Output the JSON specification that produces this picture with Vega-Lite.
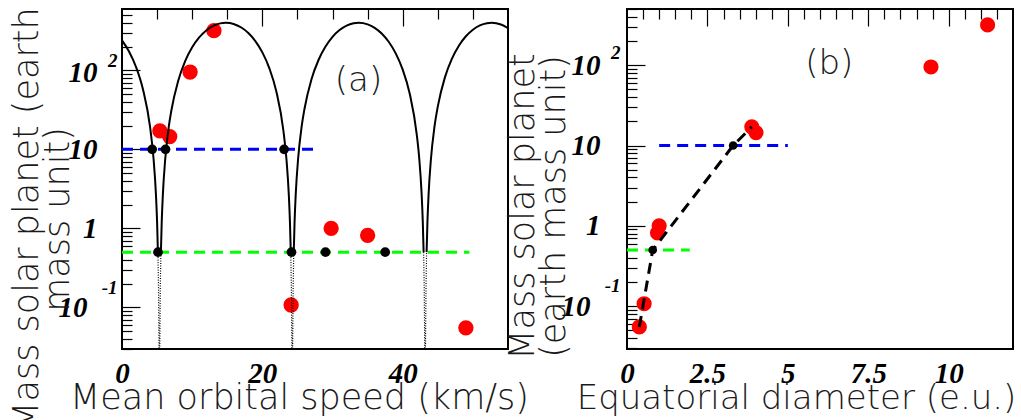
{
  "$schema": "https://vega.github.io/schema/vega-lite/v6.json",
  "autosize": "none",
  "padding": {"left": 122, "top": 9, "right": 899, "bottom": 411},
  "background": "white",
  "bounds": "flush",
  "spacing": 119,
  "config": {
    "view": {"stroke": "black", "strokeWidth": 2},
    "axis": {
      "grid": false,
      "labelFont": "Liberation Serif",
      "labelFontStyle": "italic",
      "labelFontWeight": "bold",
      "labelFontSize": 29,
      "labelColor": "black",
      "labelOverlap": false,
      "labelFlush": false,
      "labelBound": false,
      "ticks": false,
      "domain": false,
      "gridColor": "black",
      "gridOpacity": 1,
      "gridWidth": 1.2,
      "titleFont": "DejaVu Sans",
      "titleFontWeight": 200,
      "titleFontSize": 35,
      "titleColor": "#1a1a1a",
      "titleLineHeight": 31
    }
  },
  "datasets": {
    "planets": [
      {"planet": "Mercury", "speed": 49.0, "mass": 0.055, "diam": 0.383},
      {"planet": "Venus", "speed": 35.0, "mass": 0.815, "diam": 0.949},
      {"planet": "Earth", "speed": 29.8, "mass": 1.0, "diam": 1.0},
      {"planet": "Mars", "speed": 24.1, "mass": 0.107, "diam": 0.532},
      {"planet": "Jupiter", "speed": 13.1, "mass": 317.8, "diam": 11.21},
      {"planet": "Saturn", "speed": 9.7, "mass": 95.2, "diam": 9.45},
      {"planet": "Uranus", "speed": 6.8, "mass": 14.5, "diam": 4.01},
      {"planet": "Neptune", "speed": 5.4, "mass": 17.1, "diam": 3.88}
    ],
    "arches": [
      {"seg": "s1", "v": 0, "m": 239.4}, {"seg": "s1", "v": 1, "m": 173.4}, {"seg": "s1", "v": 2, "m": 110.3},
      {"seg": "s1", "v": 3, "m": 56.9}, {"seg": "s1", "v": 4, "m": 19.2}, {"seg": "s1", "v": 4.5, "m": 7.54},
      {"seg": "s1", "v": 4.83, "m": 2.75}, {"seg": "s1", "v": 5.0, "m": 1.2}, {"seg": "s1", "v": 5.117, "m": 0.5},
      {"seg": "s2", "v": 5.543, "m": 0.5}, {"seg": "s2", "v": 5.66, "m": 1.2}, {"seg": "s2", "v": 5.83, "m": 2.75},
      {"seg": "s2", "v": 6.16, "m": 7.54}, {"seg": "s2", "v": 6.66, "m": 19.2}, {"seg": "s2", "v": 7, "m": 29.96},
      {"seg": "s2", "v": 8, "m": 73.5}, {"seg": "s2", "v": 9, "m": 130.9}, {"seg": "s2", "v": 10, "m": 195.8},
      {"seg": "s2", "v": 11, "m": 261.2}, {"seg": "s2", "v": 12, "m": 320.0}, {"seg": "s2", "v": 13, "m": 365.6},
      {"seg": "s2", "v": 14, "m": 393.1}, {"seg": "s2", "v": 14.8, "m": 400}, {"seg": "s2", "v": 16, "m": 384.2},
      {"seg": "s2", "v": 17, "m": 348.7}, {"seg": "s2", "v": 18, "m": 297.2}, {"seg": "s2", "v": 19, "m": 234.9},
      {"seg": "s2", "v": 20, "m": 168.8}, {"seg": "s2", "v": 21, "m": 106.1}, {"seg": "s2", "v": 22, "m": 53.7},
      {"seg": "s2", "v": 23, "m": 17.2}, {"seg": "s2", "v": 23.43, "m": 7.54}, {"seg": "s2", "v": 23.76, "m": 2.75},
      {"seg": "s2", "v": 23.93, "m": 1.2}, {"seg": "s2", "v": 24.047, "m": 0.5},
      {"seg": "s3", "v": 24.473, "m": 0.5}, {"seg": "s3", "v": 24.59, "m": 1.2}, {"seg": "s3", "v": 24.76, "m": 2.75},
      {"seg": "s3", "v": 25.09, "m": 7.54}, {"seg": "s3", "v": 25.59, "m": 19.2}, {"seg": "s3", "v": 26, "m": 32.4},
      {"seg": "s3", "v": 27, "m": 77.2}, {"seg": "s3", "v": 28, "m": 135.3}, {"seg": "s3", "v": 29, "m": 200.3},
      {"seg": "s3", "v": 30, "m": 265.8}, {"seg": "s3", "v": 31, "m": 323.4}, {"seg": "s3", "v": 32, "m": 368.1},
      {"seg": "s3", "v": 33, "m": 394.2}, {"seg": "s3", "v": 33.73, "m": 400}, {"seg": "s3", "v": 35, "m": 382.4},
      {"seg": "s3", "v": 36, "m": 345.6}, {"seg": "s3", "v": 37, "m": 293.0}, {"seg": "s3", "v": 38, "m": 230.0},
      {"seg": "s3", "v": 39, "m": 164.0}, {"seg": "s3", "v": 40, "m": 102.0}, {"seg": "s3", "v": 41, "m": 50.6},
      {"seg": "s3", "v": 42, "m": 15.4}, {"seg": "s3", "v": 42.36, "m": 7.54}, {"seg": "s3", "v": 42.69, "m": 2.75},
      {"seg": "s3", "v": 42.86, "m": 1.2}, {"seg": "s3", "v": 42.977, "m": 0.5},
      {"seg": "s4", "v": 43.403, "m": 0.5}, {"seg": "s4", "v": 43.52, "m": 1.2}, {"seg": "s4", "v": 43.69, "m": 2.75},
      {"seg": "s4", "v": 44.02, "m": 7.54}, {"seg": "s4", "v": 44.52, "m": 19.2}, {"seg": "s4", "v": 45, "m": 35.0},
      {"seg": "s4", "v": 46, "m": 80.9}, {"seg": "s4", "v": 47, "m": 139.7}, {"seg": "s4", "v": 48, "m": 205.1},
      {"seg": "s4", "v": 49, "m": 270.2}, {"seg": "s4", "v": 50, "m": 327.2}, {"seg": "s4", "v": 51, "m": 370.6},
      {"seg": "s4", "v": 52, "m": 395.1}, {"seg": "s4", "v": 52.66, "m": 400}, {"seg": "s4", "v": 54, "m": 380.4},
      {"seg": "s4", "v": 55, "m": 342.2}
    ],
    "dips": [
      {"seg": "d1", "v": 5.117, "m": 0.5}, {"seg": "d1", "v": 5.2, "m": 0.186}, {"seg": "d1", "v": 5.28, "m": 0.0276},
      {"seg": "d1", "v": 5.33, "m": 0.0001}, {"seg": "d1", "v": 5.38, "m": 0.0276}, {"seg": "d1", "v": 5.46, "m": 0.186},
      {"seg": "d1", "v": 5.543, "m": 0.5},
      {"seg": "d2", "v": 24.047, "m": 0.5}, {"seg": "d2", "v": 24.13, "m": 0.186}, {"seg": "d2", "v": 24.21, "m": 0.0276},
      {"seg": "d2", "v": 24.26, "m": 0.0001}, {"seg": "d2", "v": 24.31, "m": 0.0276}, {"seg": "d2", "v": 24.39, "m": 0.186},
      {"seg": "d2", "v": 24.473, "m": 0.5},
      {"seg": "d3", "v": 42.977, "m": 0.5}, {"seg": "d3", "v": 43.06, "m": 0.186}, {"seg": "d3", "v": 43.14, "m": 0.0276},
      {"seg": "d3", "v": 43.19, "m": 0.0001}, {"seg": "d3", "v": 43.24, "m": 0.0276}, {"seg": "d3", "v": 43.32, "m": 0.186},
      {"seg": "d3", "v": 43.403, "m": 0.5}
    ],
    "levelsA": [
      {"band": "upper", "level": 10, "from": 0, "to": 28},
      {"band": "lower", "level": 0.5, "from": 0, "to": 49.5}
    ],
    "crossA": [
      {"v": 4.3, "m": 10}, {"v": 6.2, "m": 10}, {"v": 23.1, "m": 10},
      {"v": 5.13, "m": 0.5}, {"v": 24.15, "m": 0.5}, {"v": 29.0, "m": 0.5}, {"v": 37.5, "m": 0.5}
    ],
    "levelsB": [
      {"band": "upper", "level": 10, "from": 1, "to": 5},
      {"band": "lower", "level": 0.5, "from": 0, "to": 1.95}
    ],
    "trendB": [
      {"d": 0.383, "m": 0.055}, {"d": 0.8, "m": 0.5}, {"d": 3.3, "m": 10}, {"d": 3.88, "m": 17.1}
    ],
    "crossB": [
      {"d": 0.8, "m": 0.5}, {"d": 3.3, "m": 10}
    ]
  },
  "hconcat": [
    {
      "width": 386,
      "height": 340,
      "resolve": {"axis": {"x": "independent", "y": "independent"}},
      "layer": [
        {
          "data": {"name": "planets"},
          "mark": {"type": "circle", "size": 235, "color": "#ff0000", "opacity": 1},
          "encoding": {
            "x": {"field": "speed", "type": "quantitative", "scale": {"domain": [0, 55], "nice": false, "zero": false}, "axis": null},
            "y": {"field": "mass", "type": "quantitative", "scale": {"type": "log", "domain": [0.0297, 598], "nice": false}, "axis": null}
          }
        },
        {
          "data": {"name": "arches"},
          "mark": {"type": "line", "color": "black", "strokeWidth": 2, "interpolate": "monotone", "clip": true},
          "encoding": {
            "x": {"field": "v", "type": "quantitative", "scale": {"domain": [0, 55], "nice": false, "zero": false},
                  "axis": {"orient": "bottom", "values": [0, 20, 40], "labelExpr": "'' + datum.value",
                           "labelPadding": 10, "title": "Mean orbital speed (km/s)", "titleX": 177, "titleY": 59,
                           "titleBaseline": "alphabetic", "titleAlign": "center"}},
            "y": {"field": "m", "type": "quantitative", "scale": {"type": "log", "domain": [0.0297, 598], "nice": false},
                  "axis": {"orient": "left", "values": [0.1, 1, 10, 100], "labelExpr": "datum.value == 1 ? '1' : '10'",
                           "labelPadding": {"condition": {"test": "datum.value < 0.5", "value": 35}, "value": 25},
                           "labelOffset": {"condition": {"test": "datum.value > 50", "value": 2}, "value": 0},
                           "title": ["Mass solar planet (earth", "mass unit)"], "titleAngle": -90,
                           "titleX": -85, "titleY": 210, "titleBaseline": "alphabetic", "titleAlign": "center"}},
            "detail": {"field": "seg"}
          }
        },
        {
          "data": {"name": "dips"},
          "mark": {"type": "line", "color": "black", "strokeWidth": 1.2, "strokeDash": [1, 1.5], "clip": true},
          "encoding": {
            "x": {"field": "v", "type": "quantitative", "scale": {"domain": [0, 55], "nice": false, "zero": false},
                  "axis": {"orient": "bottom", "values": [20, 40], "labels": false, "title": null, "grid": true, "gridDash": [17, 2000]}},
            "y": {"field": "m", "type": "quantitative", "scale": {"type": "log", "domain": [0.0297, 598], "nice": false},
                  "axis": {"orient": "left", "values": [0.1, 1, 10, 100], "labels": false, "title": null, "grid": true, "gridDash": [18, 2000]}},
            "detail": {"field": "seg"}
          }
        },
        {
          "data": {"name": "levelsA"},
          "mark": {"type": "rule", "strokeWidth": 3, "strokeDash": [11, 7]},
          "encoding": {
            "x": {"field": "from", "type": "quantitative", "scale": {"domain": [0, 55], "nice": false, "zero": false},
                  "axis": {"orient": "bottom", "values": [5, 10, 15, 25, 30, 35, 45, 50], "labels": false, "title": null, "grid": true, "gridDash": [10, 2000]}},
            "x2": {"field": "to"},
            "y": {"field": "level", "type": "quantitative", "scale": {"type": "log", "domain": [0.0297, 598], "nice": false},
                  "axis": {"orient": "left", "values": [0.03, 0.04, 0.05, 0.06, 0.07, 0.08, 0.09, 0.2, 0.3, 0.4, 0.5, 0.6, 0.7, 0.8, 0.9, 2, 3, 4, 5, 6, 7, 8, 9, 20, 30, 40, 50, 60, 70, 80, 90, 200, 300, 400, 500],
                           "labels": false, "title": null, "grid": true, "gridDash": [10, 2000]}},
            "color": {"field": "band", "type": "nominal", "scale": {"domain": ["upper", "lower"], "range": ["#0000ff", "#00ff00"]}, "legend": null}
          }
        },
        {
          "data": {"name": "crossA"},
          "mark": {"type": "circle", "size": 95, "color": "black", "opacity": 1},
          "encoding": {
            "x": {"field": "v", "type": "quantitative", "scale": {"domain": [0, 55], "nice": false, "zero": false}, "axis": null},
            "y": {"field": "m", "type": "quantitative", "scale": {"type": "log", "domain": [0.0297, 598], "nice": false},
                  "axis": {"orient": "left", "values": [0.1, 100], "labelExpr": "datum.value > 1 ? '2' : '-1'", "labelFontSize": 19,
                           "labelPadding": 5,
                           "labelOffset": {"condition": {"test": "datum.value > 1", "value": -10}, "value": -20}, "title": null}}
          }
        },
        {
          "data": {"values": [{"tag": "(a)", "v": 33.7, "m": 74}]},
          "mark": {"type": "text", "font": "DejaVu Sans", "fontWeight": 200, "fontSize": 34, "align": "center", "baseline": "middle", "color": "#1a1a1a"},
          "encoding": {
            "x": {"field": "v", "type": "quantitative", "scale": {"domain": [0, 55], "nice": false, "zero": false}, "axis": null},
            "y": {"field": "m", "type": "quantitative", "scale": {"type": "log", "domain": [0.0297, 598], "nice": false}, "axis": null},
            "text": {"field": "tag"}
          }
        }
      ]
    },
    {
      "width": 386,
      "height": 340,
      "resolve": {"axis": {"x": "independent", "y": "independent"}},
      "layer": [
        {
          "data": {"name": "planets"},
          "mark": {"type": "circle", "size": 230, "color": "#ff0000", "opacity": 1},
          "encoding": {
            "x": {"field": "diam", "type": "quantitative", "scale": {"domain": [0, 12], "nice": false, "zero": false}, "axis": null},
            "y": {"field": "mass", "type": "quantitative", "scale": {"type": "log", "domain": [0.0292, 502], "nice": false}, "axis": null}
          }
        },
        {
          "data": {"name": "trendB"},
          "mark": {"type": "line", "color": "black", "strokeWidth": 3, "strokeDash": [11, 7]},
          "encoding": {
            "x": {"field": "d", "type": "quantitative", "scale": {"domain": [0, 12], "nice": false, "zero": false},
                  "axis": {"orient": "bottom", "values": [0, 2.5, 5, 7.5, 10], "labelExpr": "'' + datum.value",
                           "labelPadding": 10, "title": "Equatorial diameter (e.u.)", "titleFontSize": 34, "titleX": 169, "titleY": 59,
                           "titleBaseline": "alphabetic", "titleAlign": "center"}},
            "y": {"field": "m", "type": "quantitative", "scale": {"type": "log", "domain": [0.0292, 502], "nice": false},
                  "axis": {"orient": "left", "values": [0.1, 1, 10, 100], "labelExpr": "datum.value == 1 ? '1' : '10'",
                           "labelPadding": {"condition": {"test": "datum.value < 0.5", "value": 37}, "value": 27},
                           "title": ["Mass solar planet", "(earth mass unit)"], "titleAngle": -90,
                           "titleX": -94, "titleY": 197, "titleBaseline": "alphabetic", "titleAlign": "center"}}
          }
        },
        {
          "data": {"name": "levelsB"},
          "mark": {"type": "rule", "strokeWidth": 3, "strokeDash": [11, 7]},
          "encoding": {
            "x": {"field": "from", "type": "quantitative", "scale": {"domain": [0, 12], "nice": false, "zero": false},
                  "axis": {"orient": "bottom", "values": [2.5, 5, 7.5, 10], "labels": false, "title": null, "grid": true, "gridDash": [17, 2000]}},
            "x2": {"field": "to"},
            "y": {"field": "level", "type": "quantitative", "scale": {"type": "log", "domain": [0.0292, 502], "nice": false},
                  "axis": {"orient": "left", "values": [0.1, 1, 10, 100], "labels": false, "title": null, "grid": true, "gridDash": [18, 2000]}},
            "color": {"field": "band", "type": "nominal", "scale": {"domain": ["upper", "lower"], "range": ["#0000ff", "#00ff00"]}, "legend": null}
          }
        },
        {
          "data": {"name": "crossB"},
          "mark": {"type": "circle", "size": 75, "color": "black", "opacity": 1},
          "encoding": {
            "x": {"field": "d", "type": "quantitative", "scale": {"domain": [0, 12], "nice": false, "zero": false},
                  "axis": {"orient": "bottom", "values": [0.5, 1, 1.5, 2, 3, 3.5, 4, 4.5, 5.5, 6, 6.5, 7, 8, 8.5, 9, 9.5, 10.5, 11, 11.5],
                           "labels": false, "title": null, "grid": true, "gridDash": [10, 2000]}},
            "y": {"field": "m", "type": "quantitative", "scale": {"type": "log", "domain": [0.0292, 502], "nice": false},
                  "axis": {"orient": "left", "values": [0.03, 0.04, 0.05, 0.06, 0.07, 0.08, 0.09, 0.2, 0.3, 0.4, 0.5, 0.6, 0.7, 0.8, 0.9, 2, 3, 4, 5, 6, 7, 8, 9, 20, 30, 40, 50, 60, 70, 80, 90, 200, 300, 400, 500],
                           "labels": false, "title": null, "grid": true, "gridDash": [10, 2000]}}
          }
        },
        {
          "data": {"values": [{"tag": "(b)", "d": 6.29, "m": 103.5}]},
          "mark": {"type": "text", "font": "DejaVu Sans", "fontWeight": 200, "fontSize": 34, "align": "center", "baseline": "middle", "color": "#1a1a1a"},
          "encoding": {
            "x": {"field": "d", "type": "quantitative", "scale": {"domain": [0, 12], "nice": false, "zero": false}, "axis": null},
            "y": {"field": "m", "type": "quantitative", "scale": {"type": "log", "domain": [0.0292, 502], "nice": false},
                  "axis": {"orient": "left", "values": [0.1, 100], "labelExpr": "datum.value > 1 ? '2' : '-1'", "labelFontSize": 19,
                           "labelPadding": 7,
                           "labelOffset": {"condition": {"test": "datum.value > 1", "value": -13}, "value": -21}, "title": null}},
            "text": {"field": "tag"}
          }
        }
      ]
    }
  ]
}
